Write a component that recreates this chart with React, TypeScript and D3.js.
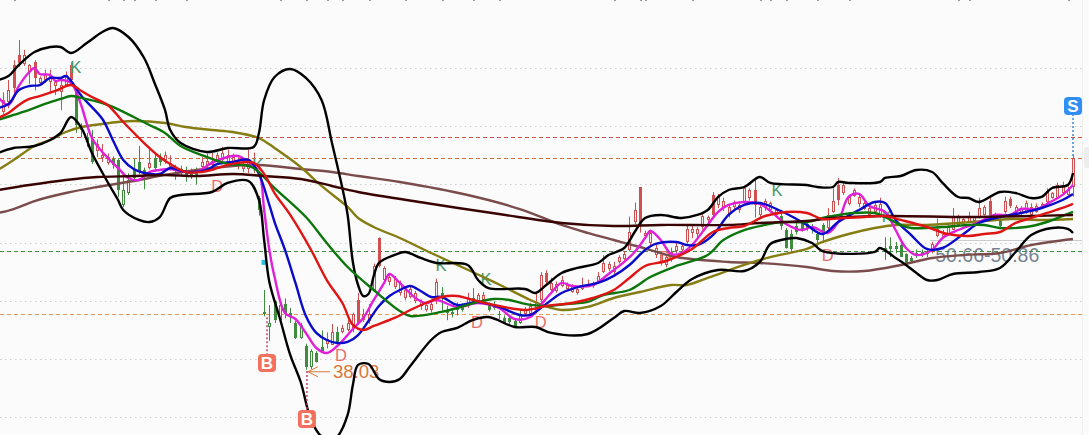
import React from "react";
import * as d3 from "d3";

// [day, price] pairs
const upperBand = [[0,68.8],[2,69.23],[4,70.4],[7,71.78],[10,72.31],[12,72.31],[14,71.67],[17,72.73],[20,73.9],[22,74.33],[25,73.37],[28,71.14],[30,68.49],[32,65.62],[33,63.49],[35,62.11],[40,61.16],[44,61.58],[49,61.69],[50,63.18],[51,66.68],[53,69.12],[56,69.97],[59,69.02],[62,66.68],[64,62.11],[66,57.3],[67,54.47],[68,49.48],[69,47.03],[70,45.86],[71,46.08],[72,48],[73,49.37],[76,50.22],[78,50.54],[81,49.9],[84,49.37],[90,49.16],[92,47.56],[94,46.71],[101,46.61],[103,46.18],[105,47],[108,48.3],[111,48.84],[115,49.37],[117,50.22],[120,50.96],[122,52.66],[124,54.15],[127,54.47],[131,54.15],[134,54.47],[136,55],[138,56.38],[140,57.12],[143,57.44],[146,58.5],[148,57.87],[155,57.65],[157,57.44],[160,57.44],[161,57.97],[163,57.87],[169,57.97],[170,58.4],[173,58.61],[176,59.25],[179,59.03],[181,57.87],[184,56.38],[186,56.27],[188,55.85],[192,56.91],[195,56.8],[198,56.27],[200,56.38],[202,57.33],[205,57.65],[206,58.93]];
const lowerBand = [[0,61.05],[3,61.58],[7,61.79],[10,62.43],[12,63.18],[14,64.87],[16,63.7],[18,61.05],[21,57.97],[23,56.06],[24,55],[27,53.94],[29,53.72],[31,54.25],[33,56.27],[35,56.59],[41,56.91],[44,57.87],[48,58.08],[50,56.06],[51,51.81],[52,47.35],[54,43.53],[56,39.6],[58,36.73],[60,32.7],[62,30.95],[64,30.6],[65,30.9],[67,33.23],[68,36.41],[69,38.54],[71,38.64],[73,37.05],[75,36.73],[77,37.05],[79,38.43],[83,41.19],[85,42.04],[88,42.47],[91,43.32],[94,43.63],[99,42.57],[103,42.57],[106,41.94],[113,41.83],[118,43.53],[120,44.27],[123,44.06],[127,44.8],[130,46.29],[133,47.67],[138,48.63],[143,48.52],[146,49.48],[148,51.39],[151,51.92],[153,52.02],[156,51.49],[158,50.64],[168,50.54],[169,50.96],[172,49.9],[174,49.16],[176,48.31],[178,47.56],[180,47.56],[183,48.2],[188,48.41],[192,48.84],[195,50.54],[198,52.34],[202,53.09],[205,52.98],[206,52.56]];
const ma5 = [[0,67],[2,66.15],[4,68.17],[6,69.65],[7,70.08],[8,69.44],[10,69.34],[11,68.7],[12,68.8],[14,68.49],[15,67.53],[16,66.04],[18,62.64],[20,61.16],[23,59.46],[25,58.4],[27,58.18],[29,59.03],[31,59.25],[33,59.35],[35,59.14],[38,59.03],[41,60],[44,60.63],[46,60.73],[48,60.1],[50,59.03],[51,55],[52,50.75],[53,47.88],[55,44.06],[57,43.42],[59,41.94],[61,40.34],[63,39.81],[65,40.55],[68,42.36],[70,43.53],[72,45.44],[74,47.25],[75,48.2],[77,47.25],[80,45.65],[82,45.12],[84,45.44],[88,44.7],[92,45.12],[96,44.59],[99,43.42],[102,43.63],[104,44.91],[106,46.18],[108,47.25],[110,46.93],[114,47.03],[117,48.2],[120,49.48],[122,50.54],[124,52.02],[125,52.77],[127,51.81],[129,50.33],[131,50.43],[133,51.28],[136,53.41],[138,54.79],[140,55.53],[143,55.85],[146,55.64],[148,54.89],[151,53.51],[154,52.87],[156,53.19],[159,52.55],[161,53.72],[163,56.38],[165,56.7],[167,55.42],[170,54.79],[172,52.87],[174,50.96],[176,50.22],[179,50.75],[181,52.02],[184,52.87],[188,53.72],[191,54.47],[194,54.47],[196,55.1],[199,55.1],[201,55.64],[204,56.6],[206,57.65]];
const ma10 = [[0,65.83],[2,66.25],[4,67.74],[6,68.17],[8,68.27],[10,69.02],[12,69.02],[13,69.23],[14,68.7],[16,67.1],[20,64.66],[22,62.43],[24,60.31],[26,59.35],[28,58.93],[31,58.82],[33,59.46],[36,59.03],[40,59.25],[42,59.88],[45,60.1],[48,60.31],[50,58.82],[52,55.53],[53,53.72],[55,50.75],[57,47.25],[59,43.74],[61,41.94],[63,41.19],[65,40.87],[67,40.98],[69,41.72],[71,43.21],[73,44.8],[75,45.86],[77,46.5],[79,46.93],[81,46.4],[83,45.76],[85,45.76],[88,44.91],[92,45.23],[96,44.7],[100,43.85],[102,43.85],[105,45],[108,46.18],[112,46.93],[115,47.25],[118,48],[121,49.16],[124,50.75],[126,51.39],[130,51.6],[132,51.28],[134,51.28],[137,52.34],[140,54.47],[143,55.53],[146,55.74],[150,54.89],[153,54.04],[155,53.41],[158,52.45],[161,53.72],[165,55],[168,55.85],[170,55.74],[172,53.94],[175,52.34],[178,50.86],[181,50.96],[185,52.45],[188,53.62],[192,54.25],[196,54.68],[200,55.21],[204,56.06],[206,56.7]];
const ma20 = [[0,64.77],[2,65.3],[4,66.15],[6,66.79],[8,67.1],[11,67.64],[14,68.27],[16,67.64],[18,67],[21,66.15],[24,64.34],[28,62.11],[31,60.63],[33,59.88],[36,59.03],[39,59.03],[41,59.25],[44,59.78],[46,60],[49,60],[51,58.82],[53,56.8],[56,54.47],[60,50.75],[63,47.56],[66,45.12],[68,42.79],[70,42.25],[72,42.68],[76,43.53],[79,44.38],[82,45.12],[85,45.76],[88,45.87],[91,45.44],[96,44.8],[101,44.38],[105,44.8],[110,45.12],[114,45.65],[118,46.5],[121,47.78],[124,49.05],[128,49.58],[133,50.86],[137,52.66],[140,53.09],[143,53.3],[147,54.36],[151,54.79],[155,54.68],[158,54.04],[162,54.15],[166,54.25],[170,54.36],[173,53.94],[178,53.19],[182,52.45],[186,52.24],[189,52.45],[192,52.66],[195,53.62],[198,54.15],[201,54.68],[204,55.21],[206,55.64]];
const ma30 = [[0,64.56],[3,65.09],[6,65.62],[9,66.26],[12,66.79],[14,67.1],[16,66.89],[20,66.36],[22,65.94],[26,64.87],[29,64.03],[32,63.18],[35,61.8],[40,60.63],[44,59.88],[47,59.78],[49,59.46],[53,57.33],[59,54.25],[63,51.49],[67,48.94],[72,46.5],[77,44.27],[79,43.74],[85,44.17],[88,44.59],[92,45.23],[95,45.55],[98,45.44],[101,45.02],[105,44.8],[109,45.02],[113,45.23],[116,45.97],[121,46.5],[125,47.88],[130,49.05],[136,50.22],[139,51.81],[143,52.87],[147,53.41],[150,53.72],[155,53.72],[158,54.15],[160,54.36],[164,54.68],[168,54.68],[170,54.25],[173,53.41],[175,53.09],[181,53.19],[186,53.41],[189,53.41],[192,53.09],[197,53.19],[201,53.72],[204,54.36],[206,54.79]];
const ma60 = [[0,59.25],[3,60.31],[7,61.8],[10,62.43],[13,63.28],[16,63.81],[20,64.13],[23,64.34],[26,64.45],[32,64.24],[36,63.81],[41,63.49],[45,63.28],[50,62.64],[53,61.58],[58,59.56],[62,57.55],[67,55.32],[69,54.15],[72,53.19],[77,52.02],[83,50.43],[88,49.16],[93,47.88],[97,46.82],[102,45.44],[106,44.59],[108,44.38],[113,44.7],[118,45.65],[123,46.29],[129,47.03],[132,47.03],[136,47.78],[143,49.16],[148,50],[155,50.86],[158,51.6],[163,52.45],[168,53.09],[172,53.41],[178,53.41],[184,53.62],[189,53.83],[194,54.04],[200,53.94],[206,54.04]];
const ma120 = [[0,57.12],[6,57.65],[13,58.18],[19,58.5],[26,58.6],[32,58.72],[38,58.6],[45,58.82],[51,58.6],[58,58.29],[64,57.55],[69,56.91],[82,55.74],[96,54.57],[108,53.62],[118,53.3],[127,53.41],[140,53.41],[146,53.62],[155,53.83],[160,54.15],[170,54.36],[186,54.25],[198,54.36],[206,54.47]];
const ma250 = [[0,54.68],[3,55.1],[7,55.95],[13,56.8],[19,57.44],[26,58.08],[32,58.72],[38,59.25],[45,59.67],[50,59.78],[58,59.35],[64,59.03],[69,58.61],[77,57.97],[90,56.59],[100,55.1],[108,53.41],[113,52.56],[118,51.81],[123,51.07],[130,50],[140,49.48],[146,49.37],[155,48.94],[160,48.52],[166,48.52],[173,49.16],[179,49.9],[185,50.22],[192,50.43],[198,51.28],[206,51.92]];

// one row per day: open, close, low, high
const candles = [
[64.8,65.6,63.8,66.7],[65.4,66.7,65.2,67.5],[66.5,67.7,65.8,68.8],[68,70.4,67.4,70.9],[70.6,71.5,70.2,73.05],[70.5,71.5,70.3,72],[69.65,70.4,68.4,70.5],[69,70.7,67.7,70.9],[68.5,69,68.2,69.2],[68.8,69.4,68.5,69.9],
[68.6,69.2,67.4,69.9],[68.2,68.6,67.2,68.8],[67.5,68.3,65.6,69.1],[68.3,69.3,68.1,69.7],[68.8,70.4,68.5,70.7],[67.7,64,63.2,68.1],[63.9,63.5,62.7,64.2],[62.8,62.2,61.7,63.2],[62.5,60.1,59.9,63.5],[61.3,62,60.6,62.5],
[60.5,60.8,60.1,62],[60,60.6,59.8,61],[60.4,59.8,59.4,60.7],[60.3,57.1,56.4,60.5],[57.1,55.5,55.3,59],[58.2,56.8,56.6,58.9],[59.2,58.4,58,60.4],[60.1,59,58.8,61.8],[59.2,58.6,57.2,59.5],[59.5,60,59.3,61.7],
[60.5,59.5,59.1,60.9],[60.6,60.1,59.7,61],[60.3,60.8,59.9,61.2],[59.6,60,59.2,60.8],[59.2,59.6,58.2,59.8],[59.4,59.1,58.7,59.7],[59.2,58.6,58,59.6],[59,58.6,58.3,59.4],[59.1,58.7,57.7,59.5],[59.6,60.1,59.1,60.6],
[59.7,60.2,59.1,61],[59.8,60.2,59.5,61.1],[60.3,60.8,60,61.1],[60.3,61,60,61.7],[59.8,60.8,59.6,61.4],[59.9,60.6,59.6,61],[59.7,60.2,59.3,60.6],[59.3,59.9,59,60.4],[59.4,60.4,58.9,61.4],[59.4,60,58.9,61.1],
[56.3,55,54.4,56.5],[44.2,43.9,43.7,46.5],[43,42.6,41.1,44.9],[45.3,43.3,43,45.4],[44.9,43.3,43,45.4],[45,43.9,43.5,45.6],[44.1,43.6,43,44.6],[43,41.4,41.3,43.2],[42.8,41.4,41.3,43],[40.6,38.3,38.03,40.8],
[40,38.3,38.1,40.2],[39.8,38.9,38.8,40],[40.4,40,39.9,42.2],[40.8,41.3,40.3,42],[40.7,42,40.7,42.9],[42,41,40.9,42.6],[42,42.5,41.9,42.8],[42.3,43,42.1,43.3],[42.5,44,42,44.1],[43,45.4,42.8,46.2],
[43.3,43.9,43.1,44.5],[43.2,44,42.9,45],[46.5,49.1,46.3,49.3],[49,52,48.9,52.1],[47.6,48.8,47.2,49],[47.3,47.9,47,48.3],[46.8,47.7,46.6,48],[46.2,47.2,45.9,47.5],[45.7,46.5,45.4,46.7],[45.8,46.6,45.6,46.8],
[45.3,46.2,45.1,46.4],[44.8,45.3,44.4,45.5],[44.4,44.9,44.2,45.1],[44.4,45,44.1,45.3],[45.3,47.4,45,47.7],[46.2,45.6,44.3,46.8],[44.3,44.1,43.3,44.8],[44.2,44,43.6,44.5],[44.9,44.4,43.8,45.2],[44.8,44.4,44.2,45.1],
[45,45.7,44.6,46.2],[45.6,45,44.9,46.7],[45.3,46,45.1,46.2],[45.4,46,45.2,46.3],[45,44.4,44.2,45.2],[45,44.6,44.4,45.3],[44,43.8,43.4,44.3],[43.5,43,42.9,43.8],[43.5,43.1,42.8,43.7],[43.2,42.7,42.6,43.4],
[43.9,43,42.9,44.4],[44,44.5,43.8,44.7],[44,44.8,43.8,45.1],[44.4,45.2,44,46.1],[45.4,48.1,44.7,48.4],[47.3,48.3,47.1,48.6],[46.5,47.2,46.4,47.8],[46.4,47.1,46.2,47.4],[46.9,47.6,46.8,48],[46.6,47,46.4,47.3],
[46.3,46.9,46.2,47.1],[46.2,46.6,46,46.9],[46.6,47,46.5,47.8],[46.9,47.1,46.8,47.6],[46.9,47.2,46.7,47.4],[47.3,48,47.2,48.4],[48.4,49.4,48.3,50.2],[48.7,49.3,48.5,49.5],[48.4,49.1,48.2,49.5],[49.5,50,49.3,50.2],
[49.8,50.3,49.7,50.6],[50.75,52.7,50.6,54.3],[53.7,55,53.5,55.8],[53.4,57.4,52.6,57.4],[52.2,52.6,52,52.8],[51.5,52.6,51.2,52.9],[50.2,51,49.9,51.3],[49.5,50.2,49.1,50.5],[49.2,50,48.9,50.2],[49.7,50.5,49.5,51],
[50.6,51.2,50.4,51.5],[50.8,51.2,50.5,51.4],[51.6,53,51.4,53.3],[52.6,53,52,53.3],[52.4,53,52.1,53.2],[53.2,54.4,52.9,54.6],[53.9,54.2,53.5,54.4],[54.5,56.6,54.2,56.9],[55.5,56.4,55.2,56.7],[55.3,56,54.9,56.3],
[54.6,55.3,54.2,55.5],[55.3,55.8,55.1,56],[55,55.5,54.7,55.7],[55.8,57.3,55.6,57.6],[56.3,57.1,56,57.3],[55.5,57.1,54.2,58.2],[54.5,55.3,54.2,55.6],[55.2,56,54.9,56.2],[55,55.7,54.8,55.9],[54.5,55,54.2,55.2],
[54.4,53.3,52.9,55],[52.9,51,50.9,53.1],[52.5,50.9,50.6,52.9],[53.3,52.7,52.4,53.6],[53.6,53,52.7,53.8],[53.5,53.1,52.8,53.7],[53.3,52.9,52.5,53.5],[52.4,51.8,51.1,52.6],[53.4,52.5,51.5,53.6],[53.1,54.5,52.9,55.2],
[54.8,56,54.7,57.3],[56.1,57.6,55.5,58.4],[56.8,57.6,56.6,57.9],[55.6,56.4,55.5,56.6],[56.5,57.1,56.4,57.3],[55.6,56.4,55.3,56.7],[55.1,55.7,55,55.9],[54.5,55.2,54.3,55.4],[54.8,55.5,54.6,55.8],[54.5,55.6,54.2,56.3],
[51,50.7,49.7,52.1],[51.2,50.9,50,52.1],[51.2,50.9,50.4,51.6],[51.3,50,50,51.5],[50.3,49.4,49.1,50.4],[49.9,49.6,49.4,50.1],[50.4,50.2,49.9,50.8],[50.5,50.2,50,50.8],[50.6,50.3,50,50.9],[50.6,51.4,50.4,51.6],
[52.2,53,52.1,54.1],[52,52.5,52,52.9],[52.5,53.2,52.3,53.6],[52.9,54.2,52.9,55.2],[53.4,54.3,53.2,54.5],[53.6,54,53.4,54.2],[53.7,54.4,53.6,54.8],[53.8,54.2,53.6,54.3],[54.3,55.2,54.1,56.3],[54.5,55.3,54.4,55.5],
[54.5,56,54.4,56.3],[54,54.5,53.9,54.7],[53.9,53.3,53.2,54.1],[54.8,56,54.6,56.4],[55.4,56.2,55.2,56.4],[54.8,55.3,54.7,55.5],[54.6,55.2,54.4,55.4],[54.8,55.7,54.6,56],[54.5,55.3,54.1,55.7],[54.8,55.4,54.7,55.7],
[55.3,55.6,55.2,55.8],[55.8,57,55.7,57.3],[56.3,56.8,56.2,56.9],[56.3,57.6,56.2,57.9],[56.8,57.7,56.6,58],[56.6,57.2,56.5,57.5],[57.4,60.5,56.4,60.8],
];
const solidRedDays = [3,4,7,14,69,73,105,123,137,145,161,190,194];
const hollowGreenDays = [24,25,52,54,58,60,100];

const gridPrices = [70.08,63.89,57.73,51.49,45.33,39.17,33.01];
const levelPrices = [62.75,60.47,50.62,43.9];
const levelColors = ["#c4534a","#c9703c","#3f8f3f","#e39a5c"];

const kdLabels = ["K","K","D","D","K","K","D","D","D","K","D","K"];
const kdDays = [14.9,49.8,42,65.7,84.9,93.5,91.8,104,127.8,149.3,159,170.4];
const kdPrices = [70.18,59.78,57.55,39.6,49.16,47.67,43.1,43.1,50,57.12,50.2,54.36];

const buyDays = [51.55,59.2];
const buyStemTops = [43.6,37.9];
const buyBadges = [38.75,32.8];
const sellDay = 206;
const sellStemEnd = 60.6;
const sellBadge = 66.04;

const lowDay = 59.2;
const lowPrice = 38.03;
const rangeLabel = "50.66-50.86";
const rangeDay = 179.6;
const rangePrice = 50.25;
const markerDay = 50.5;
const markerPrice = 49.7;
const topTickDays = [3,21,24,26,30,36,54,59,63,66,71,78,85,91,96,118,123,124,133,146,148,151,157,163,184,186,205];

const lines = [
  { data: ma250, color: "#7a4c4c" },
  { data: ma60, color: "#857c12" },
  { data: upperBand, color: "#000000" },
  { data: lowerBand, color: "#000000" },
  { data: ma5, color: "#e01fd8" },
  { data: ma10, color: "#0a0acb" },
  { data: ma30, color: "#0c760c" },
  { data: ma120, color: "#3a0303" },
  { data: ma20, color: "#e01414" },
];

const RED = "#cf5050";
const GREEN = "#3f8c3f";
const BG = "#fbfbfb";
const CHART_RIGHT = 1082;

export default function App() {
  const x = d3.scaleLinear().domain([0, 206]).range([-2, 1073]);
  const y = d3.scaleLinear().domain([31.1, 77.3]).range([435, 0]);
  const path = d3.line<number[]>()
    .x(d => x(d[0]))
    .y(d => y(d[1]))
    .curve(d3.curveCatmullRom.alpha(0.5));

  const badge = (cx: number, cy: number, fill: string, label: string) => (
    <g>
      <rect x={cx - 9} y={cy - 9} width={18} height={18} rx={4} fill={fill} />
      <text x={cx} y={cy + 6} textAnchor="middle" fontSize={17} fontWeight="bold" fill="#fff"
        fontFamily="Liberation Sans, Arial, sans-serif">{label}</text>
    </g>
  );

  return (
    <svg width={1089} height={435} style={{ position: "absolute", left: 0, top: 0, display: "block" }}>
      <rect width={1089} height={435} fill={BG} />

      {gridPrices.map(p => (
        <line key={p} x1={0} x2={CHART_RIGHT} y1={Math.round(y(p)) + 0.5} y2={Math.round(y(p)) + 0.5}
          stroke="#cfcfcf" strokeDasharray="1.5 3.5" />
      ))}
      {levelPrices.map((p, i) => (
        <line key={p} x1={0} x2={CHART_RIGHT} y1={Math.round(y(p)) + 0.5} y2={Math.round(y(p)) + 0.5}
          stroke={levelColors[i]} strokeDasharray="4 3" />
      ))}
      <line x1={x(178.6)} x2={CHART_RIGHT} y1={240.5} y2={240.5} stroke="#cccccc" />
      <line x1={CHART_RIGHT + 0.5} x2={CHART_RIGHT + 0.5} y1={0} y2={435} stroke="#efefef" />
      <rect x={1084} y={147} width={6} height={21} rx={2} fill="#ededed" />

      {topTickDays.map(d => (
        <rect key={d} x={Math.round(x(d))} y={0} width={2} height={1} fill="#999999" />
      ))}

      {candles.map(([open, close, low, high], day) => {
        const cx = Math.round(x(day));
        const up = close >= open;
        const color = up ? RED : GREEN;
        const top = Math.round(y(Math.max(open, close)));
        const bottom = Math.round(y(Math.min(open, close)));
        const filled = up ? solidRedDays.includes(day) : !hollowGreenDays.includes(day);
        return (
          <g key={day}>
            <line x1={cx + 0.5} x2={cx + 0.5} y1={y(high)} y2={y(low)} stroke={color} />
            {filled
              ? <rect x={cx - 1} y={top} width={3} height={Math.max(1, bottom - top)} fill={color} />
              : <rect x={cx - 0.5} y={top + 0.5} width={2} height={Math.max(1, bottom - top - 1)} fill="#fff0ee" stroke={color} />}
          </g>
        );
      })}

      <rect x={x(markerDay)} y={y(markerPrice)} width={4} height={5} fill="#27c3dc" />

      {kdLabels.map((label, i) => (
        <text key={i} x={x(kdDays[i])} y={y(kdPrices[i]) + 6} textAnchor="middle" fontSize={16.5}
          fill={label === "K" ? "#43976a" : "#e8706a"} fontFamily="Liberation Sans, Arial, sans-serif">{label}</text>
      ))}

      <g stroke="#d9773b" fill="none">
        <path d={`M${x(lowDay) + 23},${y(lowPrice) + 2}H${x(lowDay) + 1}M${x(lowDay) + 11},${y(lowPrice) - 3}L${x(lowDay) + 1},${y(lowPrice) + 2}L${x(lowDay) + 11},${y(lowPrice) + 7}`} />
      </g>
      <text x={x(lowDay) + 26} y={y(lowPrice) + 8} fontSize={18.6} fill="#d9773b"
        fontFamily="Liberation Sans, Arial, sans-serif">{lowPrice.toFixed(2)}</text>
      <text x={x(rangeDay)} y={y(rangePrice) + 7} fontSize={19.5} fill="#5c6b7c" fillOpacity={0.85}
        fontFamily="Liberation Sans, Arial, sans-serif">{rangeLabel}</text>

      {lines.map((l, i) => (
        <path key={i} d={path(l.data) as string} fill="none" stroke={l.color} strokeWidth={2.4} strokeLinejoin="round" />
      ))}

      {buyDays.map((d, i) => (
        <g key={d}>
          <line x1={x(d)} x2={x(d)} y1={y(buyStemTops[i])} y2={y(buyBadges[i])} stroke="#b5476e" strokeWidth={1.5} strokeDasharray="2 2" />
          {badge(x(d), y(buyBadges[i]), "#f3705f", "B")}
        </g>
      ))}
      <line x1={x(sellDay)} x2={x(sellDay)} y1={y(sellBadge)} y2={y(sellStemEnd)} stroke="#3a86d8" strokeWidth={1.5} strokeDasharray="2 2" />
      {badge(x(sellDay), y(sellBadge), "#2f8ff5", "S")}
    </svg>
  );
}
